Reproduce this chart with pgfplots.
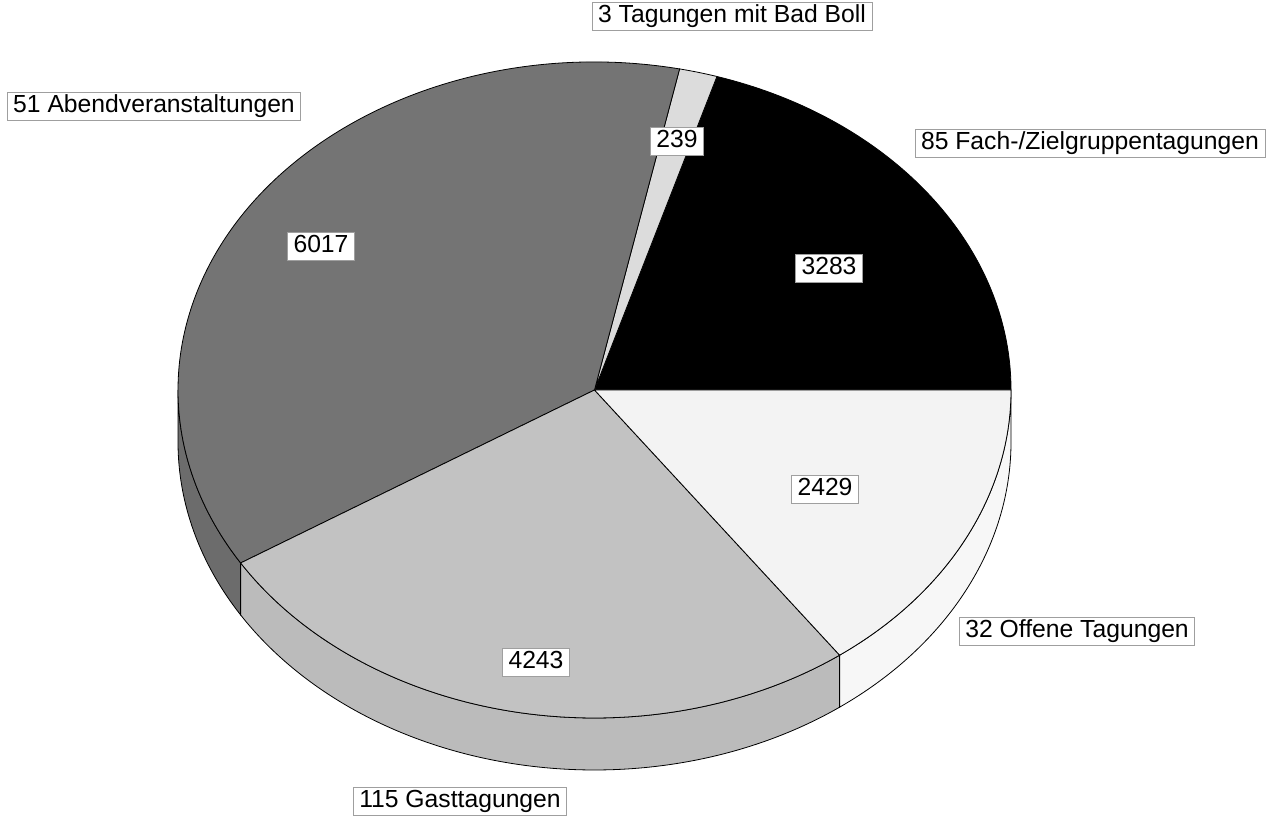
\documentclass[border=0pt]{standalone}
\usepackage{pgfplots}
\pgfplotsset{compat=1.18}
\usepackage{fontspec}
\setmainfont{Liberation Sans}
\definecolor{cDark}{HTML}{747474}
\definecolor{cDarkSide}{HTML}{6C6C6C}
\definecolor{cLight}{HTML}{C2C2C2}
\definecolor{cLightSide}{HTML}{BBBBBB}
\definecolor{cSliver}{HTML}{DCDCDC}
\definecolor{cWhite}{HTML}{F3F3F3}
\definecolor{cWhiteSide}{HTML}{F7F7F7}
% values (counter-clockwise from 0 deg)
\pgfmathsetmacro\va{3283}% 85 Fach-/Zielgruppentagungen
\pgfmathsetmacro\vb{239}% 3 Tagungen mit Bad Boll
\pgfmathsetmacro\vc{6017}% 51 Abendveranstaltungen
\pgfmathsetmacro\vd{4243}% 115 Gasttagungen
\pgfmathsetmacro\ve{2429}% 32 Offene Tagungen
\pgfmathsetmacro\tot{\va+\vb+\vc+\vd+\ve}
\pgfmathsetmacro\aA{0}
\pgfmathsetmacro\aB{\aA+(\va/\tot)*360}
\pgfmathsetmacro\aC{\aB+(\vb/\tot)*360}
\pgfmathsetmacro\aD{\aC+(\vc/\tot)*360}
\pgfmathsetmacro\aE{\aD+(\vd/\tot)*360}
\pgfmathsetmacro\aF{360}
\def\pcx{594.5}\def\pcy{427}\def\prx{416.5}\def\pry{328}\def\pdep{52}
\newcommand\topslice[3]{%
  \filldraw[fill=#3,draw=black,line width=0.8bp]
    (axis cs:\pcx,\pcy) -- (axis cs:{\pcx+\prx*cos(#1)},{\pcy+\pry*sin(#1)})
    arc[start angle=#1,end angle=#2,x radius=\prx bp,y radius=\pry bp] -- cycle;}
\newcommand\sideslice[3]{%
  \filldraw[fill=#3,draw=black,line width=0.8bp]
    (axis cs:{\pcx+\prx*cos(#1)},{\pcy+\pry*sin(#1)})
    arc[start angle=#1,end angle=#2,x radius=\prx bp,y radius=\pry bp]
    -- ++(0,-\pdep bp)
    arc[start angle=#2,end angle=#1,x radius=\prx bp,y radius=\pry bp] -- cycle;}
\tikzset{lab/.style={draw=gray!75,fill=white,line width=0.8bp,inner xsep=6bp,inner ysep=2bp,
  text height=19bp,text depth=5bp,font=\fontsize{24.8}{28}\selectfont}}
\begin{document}
\begin{tikzpicture}
\begin{axis}[x=1bp,y=1bp,xmin=0,xmax=1274,ymin=0,ymax=817,hide axis,clip=false,
  scale only axis,xtick=\empty,ytick=\empty]
\coordinate (ll) at (axis cs:0,0);
\coordinate (ur) at (axis cs:1274,817);
% sides
\sideslice{180}{\aD}{cDarkSide}
\sideslice{\aD}{\aE}{cLightSide}
\sideslice{\aE}{360}{cWhiteSide}
% top
\topslice{\aA}{\aB}{black}
\topslice{\aB}{\aC}{cSliver}
\topslice{\aC}{\aD}{cDark}
\topslice{\aD}{\aE}{cLight}
\topslice{\aE}{\aF}{cWhite}
% value labels
\node[lab] at (axis cs:677,676) {239};
\node[lab] at (axis cs:829,549) {3283};
\node[lab] at (axis cs:321,571) {6017};
\node[lab] at (axis cs:825,328) {2429};
\node[lab] at (axis cs:536,155) {4243};
% category labels
\node[lab] at (axis cs:732,801) {3 Tagungen mit Bad Boll};
\node[lab] at (axis cs:154,711) {51 Abendveranstaltungen};
\node[lab] at (axis cs:1090,674) {85 Fach-/Zielgruppentagungen};
\node[lab] at (axis cs:1077,186) {32 Offene Tagungen};
\node[lab] at (axis cs:460,16) {115 Gasttagungen};
\end{axis}
\pgfresetboundingbox
\path[use as bounding box] (ll) rectangle (ur);
\end{tikzpicture}
\end{document}
